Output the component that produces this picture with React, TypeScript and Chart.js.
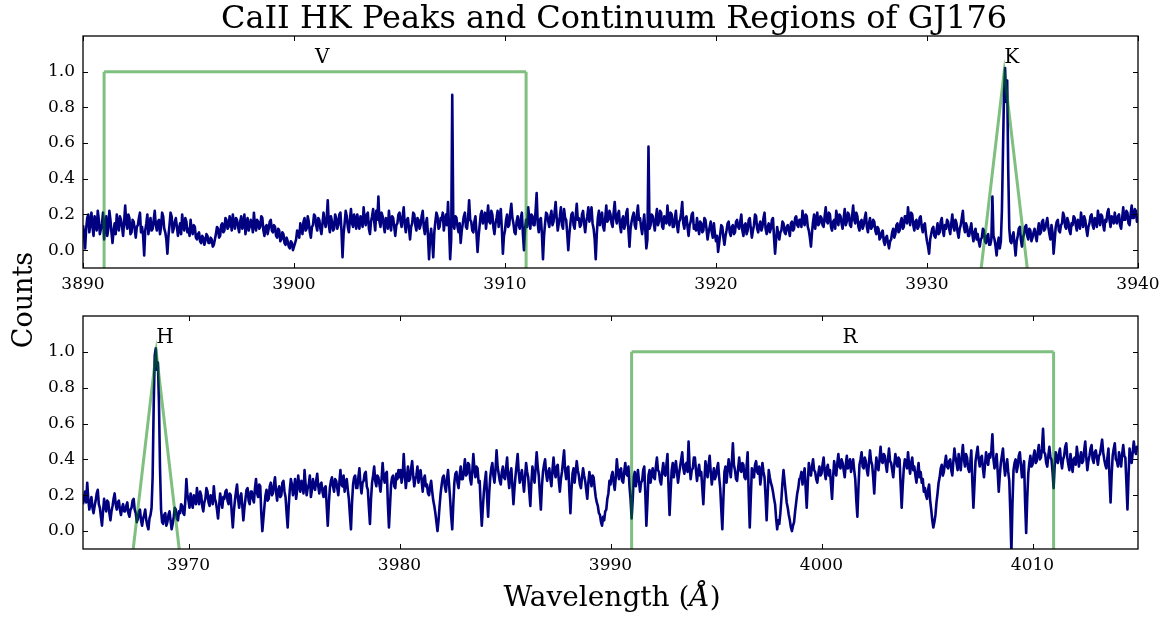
import React, { useEffect, useRef } from "react";
import { Chart, registerables } from "chart.js";

Chart.register(...registerables);

const FIG_W = 1169;
const FIG_H = 617;
const FONT = '"DejaVu Serif", serif';

// sampling grid (Å)
const STEP = 0.05;
const TOP_START = 3890;
const BOTTOM_START = 3965;

// axis ranges and ticks
const TOP_X_RANGE = [3890, 3940];
const BOTTOM_X_RANGE = [3965, 4015];
const Y_RANGE = [-0.1, 1.2];
const TOP_X_TICKS = [3890, 3900, 3910, 3920, 3930, 3940];
const BOTTOM_X_TICKS = [3970, 3980, 3990, 4000, 4010];
const Y_TICKS = [0.0, 0.2, 0.4, 0.6, 0.8, 1.0];

// regions
const V_REGION = [3891.0, 3911.0];
const R_REGION = [3991.0, 4011.0];
const K_CENTER = 3933.66;
const H_CENTER = 3968.47;
const TRI_HALF_BASE = 1.09;
const PEAK_LEVEL = 1.0;
const LABEL_LEVEL = 1.05;
const TOP_LABELS = ["V", "K"];
const TOP_LABEL_X = [3901.0, 3933.66];
const BOTTOM_LABELS = ["H", "R"];
const BOTTOM_LABEL_X = [3968.47, 4001.0];

// normalised counts, 3890.00 ... 3940.00 Å (one row per Å)
const TOP_FLUX = [
  0.14, 0.09, 0.01, 0.12, 0.18, 0.20, 0.10, 0.15, 0.21, 0.13, 0.08, 0.19, 0.16, 0.11, 0.22, 0.17, 0.09, 0.12, 0.15, 0.21,
  0.06, 0.14, 0.19, 0.08, 0.12, 0.22, 0.17, 0.10, 0.04, 0.11, 0.15, 0.09, 0.20, 0.14, 0.11, 0.19, 0.17, 0.13, 0.08, 0.16,
  0.25, 0.15, 0.12, 0.20, 0.18, 0.09, 0.10, 0.17, 0.16, 0.12, 0.07, 0.13, 0.14, 0.18, 0.21, 0.10, 0.13, 0.08, -0.03, 0.11,
  0.15, 0.20, 0.09, 0.14, 0.18, 0.11, 0.12, 0.17, 0.22, 0.14, 0.11, 0.16, 0.17, 0.09, 0.13, 0.21, 0.19, 0.12, 0.10, 0.06,
  -0.02, 0.08, 0.14, 0.21, 0.19, 0.10, 0.12, 0.16, 0.18, 0.13, 0.08, 0.12, 0.15, 0.09, 0.20, 0.14, 0.11, 0.18, 0.16, 0.10,
  0.12, 0.08, 0.17, 0.11, 0.09, 0.14, 0.13, 0.07, 0.06, 0.09, 0.10, 0.05, 0.04, 0.08, 0.07, 0.03, 0.05, 0.09, 0.08, 0.04,
  0.04, 0.07, 0.06, 0.02, 0.03, 0.06, 0.09, 0.13, 0.12, 0.07, 0.08, 0.14, 0.15, 0.10, 0.11, 0.18, 0.17, 0.12, 0.13, 0.19,
  0.16, 0.11, 0.20, 0.15, 0.12, 0.18, 0.17, 0.13, 0.10, 0.16, 0.19, 0.12, 0.14, 0.20, 0.09, 0.15, 0.18, 0.11, 0.13, 0.17,
  0.15, 0.10, 0.21, 0.14, 0.11, 0.17, 0.16, 0.12, 0.13, 0.19, 0.18, 0.11, 0.08, 0.13, 0.14, 0.09, 0.12, 0.16, 0.17, 0.11,
  0.10, 0.14, 0.13, 0.08, 0.07, 0.12, 0.11, 0.05, 0.06, 0.10, 0.09, 0.04, 0.03, 0.07, 0.05, 0.02, 0.01, 0.05, 0.04, 0.00,
  0.02, 0.04, 0.06, 0.11, 0.10, 0.07, 0.15, 0.12, 0.09, 0.16, 0.18, 0.11, 0.12, 0.19, 0.16, 0.10, 0.07, 0.13, 0.14, 0.20,
  0.19, 0.14, 0.11, 0.18, 0.17, 0.12, 0.09, 0.15, 0.21, 0.16, 0.13, 0.18, 0.28, 0.14, 0.10, 0.19, 0.16, 0.11, 0.12, 0.20,
  0.18, 0.12, 0.14, 0.20, 0.21, 0.11, -0.04, 0.09, 0.15, 0.22, 0.19, 0.13, 0.10, 0.17, 0.23, 0.15, 0.13, 0.20, 0.17, 0.12,
  0.20, 0.15, 0.12, 0.19, 0.18, 0.13, 0.24, 0.17, 0.14, 0.20, 0.21, 0.12, 0.09, 0.16, 0.19, 0.23, 0.16, 0.11, 0.22, 0.17,
  0.30, 0.16, 0.13, 0.21, 0.19, 0.14, 0.10, 0.18, 0.17, 0.12, 0.22, 0.15, 0.11, 0.19, 0.18, 0.13, 0.08, 0.14, 0.15, 0.20,
  0.21, 0.16, 0.13, 0.19, 0.24, 0.14, 0.10, 0.17, 0.18, 0.12, 0.06, 0.13, 0.15, 0.21, 0.20, 0.14, 0.11, 0.18, 0.17, 0.12,
  0.14, 0.19, 0.22, 0.13, 0.09, 0.15, 0.18, 0.08, -0.05, 0.07, 0.12, 0.05, -0.04, 0.10, 0.16, 0.21, 0.19, 0.12, 0.13, 0.18,
  0.17, 0.21, 0.11, 0.16, 0.20, 0.14, 0.27, 0.12, -0.05, 0.06, 0.87, 0.14, 0.12, 0.19, 0.18, 0.13, 0.10, 0.15, 0.04, 0.11,
  0.15, 0.19, 0.21, 0.13, 0.12, 0.18, 0.28, 0.17, 0.16, 0.11, 0.10, 0.16, 0.19, 0.09, -0.01, 0.08, 0.14, 0.20, 0.22, 0.15,
  0.17, 0.21, 0.12, 0.18, 0.25, 0.16, 0.15, 0.22, 0.20, 0.13, 0.09, 0.15, 0.18, 0.22, 0.13, 0.19, 0.23, 0.12, -0.02, 0.08,
  0.11, 0.17, 0.20, 0.13, 0.14, 0.21, 0.26, 0.18, 0.15, 0.10, 0.09, 0.16, 0.19, 0.14, 0.12, 0.18, 0.21, 0.09, 0.00, 0.12,
  0.17, 0.13, 0.24, 0.18, 0.12, 0.20, 0.19, 0.14, 0.14, 0.22, 0.32, 0.15, 0.10, 0.17, 0.18, 0.09, -0.05, 0.08, 0.15, 0.21,
  0.20, 0.16, 0.13, 0.19, 0.22, 0.14, 0.16, 0.21, 0.27, 0.18, 0.11, 0.15, 0.19, 0.24, 0.14, 0.12, 0.23, 0.18, 0.17, 0.09,
  0.00, 0.09, 0.15, 0.20, 0.21, 0.14, 0.12, 0.19, 0.26, 0.17, 0.18, 0.13, 0.14, 0.20, 0.22, 0.15, 0.10, 0.16, 0.19, 0.24,
  0.16, 0.20, 0.24, 0.15, 0.12, 0.06, -0.05, 0.09, 0.18, 0.22, 0.14, 0.19, 0.21, 0.13, 0.11, 0.18, 0.25, 0.16, 0.17, 0.22,
  0.20, 0.15, 0.13, 0.21, 0.27, 0.18, 0.15, 0.20, 0.22, 0.14, 0.10, 0.17, 0.19, 0.12, 0.14, 0.21, 0.23, 0.11, 0.02, 0.12,
  0.16, 0.19, 0.21, 0.14, 0.12, 0.20, 0.25, 0.17, 0.18, 0.13, 0.09, 0.15, 0.20, 0.11, 0.01, 0.06, 0.58, 0.12, 0.14, 0.20,
  0.19, 0.15, 0.11, 0.18, 0.23, 0.14, 0.16, 0.22, 0.21, 0.13, 0.12, 0.19, 0.18, 0.15, 0.25, 0.17, 0.14, 0.21, 0.20, 0.13,
  0.13, 0.18, 0.22, 0.14, 0.10, 0.16, 0.17, 0.21, 0.27, 0.15, 0.12, 0.18, 0.19, 0.13, 0.08, 0.14, 0.16, 0.20, 0.21, 0.12,
  0.14, 0.11, 0.18, 0.13, 0.09, 0.16, 0.15, 0.10, 0.11, 0.18, 0.17, 0.12, 0.06, 0.10, 0.13, 0.16, 0.10, 0.07, 0.15, 0.09,
  0.05, 0.08, -0.01, 0.04, 0.09, 0.14, 0.13, 0.07, 0.03, 0.08, 0.11, 0.15, 0.16, 0.10, 0.08, 0.13, 0.14, 0.09, 0.10, 0.16,
  0.17, 0.13, 0.12, 0.16, 0.20, 0.11, 0.08, 0.14, 0.15, 0.09, 0.11, 0.17, 0.18, 0.12, 0.07, 0.11, 0.14, 0.20, 0.19, 0.12,
  0.10, 0.14, 0.16, 0.11, 0.13, 0.18, 0.21, 0.12, 0.09, 0.13, 0.15, 0.10, 0.12, 0.17, 0.18, 0.07, -0.02, 0.06, 0.13, 0.09,
  0.06, 0.10, 0.11, 0.16, 0.15, 0.10, 0.09, 0.13, 0.14, 0.11, 0.08, 0.15, 0.16, 0.11, 0.12, 0.18, 0.19, 0.14, 0.13, 0.17,
  0.17, 0.13, 0.22, 0.16, 0.14, 0.20, 0.19, 0.13, 0.11, 0.07, 0.02, 0.10, 0.16, 0.20, 0.12, 0.17, 0.21, 0.14, 0.15, 0.19,
  0.18, 0.14, 0.13, 0.19, 0.24, 0.16, 0.15, 0.21, 0.20, 0.13, 0.11, 0.16, 0.17, 0.12, 0.22, 0.18, 0.14, 0.20, 0.19, 0.15,
  0.12, 0.18, 0.23, 0.14, 0.16, 0.21, 0.20, 0.14, 0.13, 0.19, 0.25, 0.17, 0.15, 0.21, 0.19, 0.13, 0.11, 0.16, 0.17, 0.12,
  0.14, 0.18, 0.21, 0.13, 0.10, 0.15, 0.18, 0.12, 0.13, 0.17, 0.16, 0.11, 0.09, 0.13, 0.12, 0.06, 0.07, 0.10, 0.11, 0.05,
  0.03, 0.07, 0.08, 0.04, 0.01, 0.05, 0.06, 0.10, 0.12, 0.07, 0.09, 0.14, 0.15, 0.10, 0.11, 0.16, 0.18, 0.12, 0.13, 0.19,
  0.19, 0.15, 0.24, 0.18, 0.14, 0.21, 0.20, 0.14, 0.11, 0.16, 0.17, 0.12, 0.13, 0.18, 0.19, 0.13, 0.10, 0.14, 0.15, 0.09,
  0.05, 0.02, -0.02, 0.06, 0.09, 0.12, 0.13, 0.08, 0.07, 0.11, 0.15, 0.09, 0.10, 0.16, 0.18, 0.11, 0.08, 0.14, 0.12, 0.17,
  0.16, 0.12, 0.09, 0.15, 0.20, 0.13, 0.11, 0.17, 0.15, 0.10, 0.07, 0.12, 0.14, 0.18, 0.22, 0.13, 0.10, 0.15, 0.13, 0.08,
  0.08, 0.12, 0.15, 0.09, 0.05, 0.10, 0.12, 0.06, 0.09, 0.05, 0.02, 0.06, 0.07, 0.12, 0.11, 0.05, 0.04, 0.08, 0.09, 0.03,
  0.03, 0.06, 0.30, 0.08, 0.06, 0.02, -0.03, 0.04, 0.07, 0.01, 0.05, 0.22, 0.55, 0.88, 1.02, 0.83, 0.95, 0.45, 0.12, 0.05,
  0.04, 0.08, 0.10, 0.03, -0.03, 0.05, 0.08, 0.12, 0.13, 0.06, 0.02, 0.07, 0.09, 0.13, 0.14, 0.08, 0.06, 0.12, 0.11, 0.05,
  0.07, 0.10, 0.12, 0.08, 0.05, 0.11, 0.15, 0.09, 0.10, 0.16, 0.17, 0.11, 0.12, 0.15, 0.18, 0.13, 0.09, 0.06, 0.14, 0.10,
  -0.02, 0.05, 0.13, 0.16, 0.17, 0.11, 0.10, 0.14, 0.15, 0.21, 0.19, 0.13, 0.12, 0.18, 0.16, 0.11, 0.09, 0.15, 0.14, 0.19,
  0.18, 0.14, 0.11, 0.17, 0.16, 0.12, 0.21, 0.16, 0.13, 0.19, 0.17, 0.12, 0.08, 0.13, 0.15, 0.19, 0.20, 0.14, 0.12, 0.18,
  0.17, 0.13, 0.22, 0.18, 0.14, 0.20, 0.19, 0.14, 0.11, 0.17, 0.16, 0.21, 0.23, 0.17, 0.13, 0.19, 0.18, 0.15, 0.21, 0.16,
  0.15, 0.19, 0.20, 0.14, 0.12, 0.18, 0.24, 0.17, 0.17, 0.22, 0.21, 0.15, 0.14, 0.20, 0.25, 0.18, 0.18, 0.23, 0.22, 0.16,
  0.19,
];

// normalised counts, 3965.00 ... 4015.00 Å (one row per Å)
const BOTTOM_FLUX = [
  0.15, 0.19, 0.22, 0.16, 0.27, 0.18, 0.12, 0.16, 0.19, 0.13, 0.10, 0.14, 0.17, 0.21, 0.23, 0.15, 0.13, 0.08, 0.03, 0.11,
  0.18, 0.14, 0.11, 0.17, 0.16, 0.10, 0.06, 0.11, 0.14, 0.18, 0.21, 0.15, 0.12, 0.16, 0.17, 0.12, 0.09, 0.13, 0.15, 0.11,
  0.11, 0.14, 0.16, 0.10, 0.08, 0.12, 0.13, 0.17, 0.18, 0.12, 0.10, 0.05, 0.07, 0.11, 0.12, 0.06, 0.03, 0.07, 0.09, 0.12,
  0.06, 0.03, 0.01, 0.07, 0.09, 0.13, 0.30, 0.70, 0.98, 1.02, 0.90, 0.94, 0.72, 0.35, 0.12, 0.05, 0.04, 0.09, 0.10, 0.03,
  0.05, 0.09, 0.11, 0.06, 0.01, 0.04, 0.08, 0.13, 0.12, 0.07, 0.06, 0.11, 0.10, 0.15, 0.14, 0.10, 0.09, 0.17, 0.29, 0.20,
  0.17, 0.13, 0.21, 0.16, 0.13, 0.20, 0.19, 0.15, 0.24, 0.18, 0.15, 0.22, 0.20, 0.14, 0.11, 0.16, 0.18, 0.24, 0.22, 0.16,
  0.14, 0.20, 0.19, 0.15, 0.25, 0.18, 0.16, 0.12, 0.07, 0.14, 0.21, 0.17, 0.13, 0.19, 0.18, 0.22, 0.23, 0.17, 0.15, 0.21,
  0.20, 0.10, 0.02, 0.11, 0.17, 0.22, 0.26, 0.18, 0.13, 0.19, 0.21, 0.14, 0.06, 0.13, 0.18, 0.23, 0.24, 0.17, 0.15, 0.22,
  0.22, 0.18, 0.16, 0.24, 0.29, 0.21, 0.19, 0.26, 0.25, 0.10, 0.00, 0.07, 0.14, 0.20, 0.23, 0.17, 0.18, 0.25, 0.27, 0.20,
  0.21, 0.26, 0.30, 0.22, 0.17, 0.23, 0.25, 0.19, 0.20, 0.27, 0.28, 0.22, 0.19, 0.10, 0.02, 0.14, 0.23, 0.29, 0.26, 0.20,
  0.24, 0.29, 0.18, 0.23, 0.31, 0.25, 0.22, 0.28, 0.27, 0.21, 0.34, 0.26, 0.20, 0.24, 0.26, 0.31, 0.19, 0.23, 0.29, 0.25,
  0.23, 0.28, 0.32, 0.25, 0.21, 0.26, 0.27, 0.22, 0.19, 0.24, 0.25, 0.14, 0.03, 0.15, 0.24, 0.28, 0.30, 0.25, 0.22, 0.29,
  0.28, 0.24, 0.20, 0.27, 0.34, 0.26, 0.25, 0.31, 0.22, 0.27, 0.29, 0.23, 0.18, 0.09, 0.01, 0.16, 0.26, 0.30, 0.31, 0.24,
  0.24, 0.30, 0.35, 0.26, 0.21, 0.27, 0.28, 0.32, 0.33, 0.25, 0.23, 0.13, 0.04, 0.18, 0.27, 0.31, 0.36, 0.28, 0.25, 0.31,
  0.30, 0.26, 0.22, 0.29, 0.38, 0.30, 0.27, 0.32, 0.33, 0.15, 0.02, 0.14, 0.26, 0.30, 0.31, 0.25, 0.24, 0.32, 0.29, 0.34,
  0.30, 0.34, 0.27, 0.31, 0.43, 0.32, 0.24, 0.30, 0.36, 0.28, 0.29, 0.35, 0.39, 0.31, 0.25, 0.29, 0.31, 0.36, 0.27, 0.32,
  0.34, 0.28, 0.22, 0.29, 0.31, 0.25, 0.26, 0.21, 0.20, 0.25, 0.28, 0.22, 0.17, 0.14, 0.10, 0.05, 0.00, 0.06, 0.14, 0.21,
  0.26, 0.30, 0.31, 0.25, 0.22, 0.29, 0.34, 0.26, 0.18, 0.08, 0.01, 0.15, 0.27, 0.32, 0.33, 0.27, 0.24, 0.31, 0.36, 0.29,
  0.29, 0.34, 0.40, 0.31, 0.32, 0.38, 0.37, 0.29, 0.26, 0.33, 0.43, 0.35, 0.30, 0.36, 0.35, 0.27, 0.28, 0.14, 0.03, 0.13,
  0.22, 0.28, 0.33, 0.19, 0.08, 0.21, 0.30, 0.35, 0.38, 0.31, 0.27, 0.34, 0.45, 0.36, 0.32, 0.28, 0.26, 0.33, 0.36, 0.30,
  0.29, 0.35, 0.41, 0.30, 0.24, 0.32, 0.35, 0.25, 0.15, 0.24, 0.31, 0.37, 0.43, 0.33, 0.27, 0.31, 0.34, 0.28, 0.22, 0.30,
  0.38, 0.33, 0.30, 0.22, 0.14, 0.27, 0.36, 0.31, 0.27, 0.35, 0.44, 0.36, 0.31, 0.21, 0.12, 0.25, 0.33, 0.37, 0.40, 0.32,
  0.28, 0.33, 0.35, 0.29, 0.25, 0.34, 0.41, 0.33, 0.30, 0.36, 0.37, 0.28, 0.22, 0.29, 0.33, 0.39, 0.45, 0.34, 0.29, 0.35,
  0.36, 0.22, 0.10, 0.23, 0.32, 0.35, 0.27, 0.33, 0.39, 0.34, 0.31, 0.26, 0.24, 0.30, 0.35, 0.31, 0.28, 0.23, 0.18, 0.27,
  0.33, 0.29, 0.25, 0.31, 0.30, 0.24, 0.19, 0.16, 0.14, 0.10, 0.09, 0.05, 0.03, 0.08, 0.06, 0.11, 0.12, 0.18, 0.21, 0.28,
  0.26, 0.31, 0.33, 0.27, 0.23, 0.30, 0.40, 0.33, 0.29, 0.34, 0.35, 0.28, 0.27, 0.33, 0.38, 0.32, 0.31, 0.36, 0.25, 0.18,
  0.07, 0.17, 0.30, 0.33, 0.25, 0.29, 0.34, 0.28, 0.22, 0.27, 0.28, 0.34, 0.36, 0.21, 0.03, 0.16, 0.31, 0.34, 0.27, 0.32,
  0.35, 0.30, 0.29, 0.36, 0.41, 0.34, 0.33, 0.28, 0.26, 0.33, 0.38, 0.32, 0.31, 0.37, 0.43, 0.25, 0.09, 0.22, 0.34, 0.38,
  0.30, 0.35, 0.39, 0.33, 0.27, 0.32, 0.36, 0.40, 0.44, 0.35, 0.32, 0.37, 0.38, 0.33, 0.50, 0.36, 0.29, 0.34, 0.35, 0.41,
  0.41, 0.34, 0.28, 0.33, 0.37, 0.31, 0.33, 0.24, 0.15, 0.28, 0.39, 0.34, 0.30, 0.37, 0.42, 0.33, 0.26, 0.31, 0.35, 0.29,
  0.31, 0.35, 0.38, 0.30, 0.24, 0.12, 0.01, 0.18, 0.33, 0.36, 0.27, 0.34, 0.40, 0.35, 0.30, 0.38, 0.49, 0.37, 0.34, 0.29,
  0.28, 0.35, 0.41, 0.34, 0.33, 0.38, 0.37, 0.30, 0.29, 0.36, 0.44, 0.21, 0.02, 0.19, 0.35, 0.32, 0.30, 0.37, 0.39, 0.33,
  0.32, 0.36, 0.26, 0.31, 0.38, 0.33, 0.30, 0.19, 0.06, 0.21, 0.34, 0.30, 0.27, 0.25, 0.22, 0.18, 0.15, 0.07, 0.01, 0.06,
  0.04, 0.10, 0.18, 0.27, 0.34, 0.28, 0.22, 0.16, 0.13, 0.09, 0.06, 0.02, 0.00, 0.03, 0.05, 0.11, 0.16, 0.21, 0.24, 0.29,
  0.30, 0.33, 0.26, 0.31, 0.35, 0.24, 0.13, 0.27, 0.38, 0.33, 0.31, 0.36, 0.40, 0.34, 0.33, 0.29, 0.27, 0.32, 0.36, 0.31,
  0.32, 0.37, 0.41, 0.33, 0.29, 0.35, 0.37, 0.31, 0.34, 0.26, 0.18, 0.30, 0.39, 0.34, 0.31, 0.38, 0.43, 0.36, 0.35, 0.40,
  0.38, 0.34, 0.30, 0.37, 0.42, 0.35, 0.36, 0.40, 0.33, 0.37, 0.40, 0.34, 0.29, 0.17, 0.08, 0.24, 0.37, 0.40, 0.44, 0.36,
  0.35, 0.41, 0.39, 0.34, 0.31, 0.38, 0.45, 0.39, 0.37, 0.30, 0.21, 0.33, 0.41, 0.36, 0.34, 0.40, 0.47, 0.39, 0.38, 0.43,
  0.42, 0.37, 0.33, 0.40, 0.46, 0.39, 0.38, 0.34, 0.30, 0.37, 0.43, 0.39, 0.36, 0.41, 0.40, 0.26, 0.13, 0.25, 0.35, 0.40,
  0.39, 0.35, 0.44, 0.37, 0.32, 0.38, 0.41, 0.34, 0.36, 0.31, 0.27, 0.33, 0.38, 0.30, 0.33, 0.27, 0.29, 0.22, 0.24, 0.20,
  0.18, 0.23, 0.26, 0.17, 0.12, 0.06, 0.02, 0.05, 0.09, 0.16, 0.21, 0.27, 0.30, 0.35, 0.37, 0.31, 0.33, 0.38, 0.42, 0.36,
  0.35, 0.39, 0.40, 0.34, 0.31, 0.39, 0.46, 0.41, 0.38, 0.34, 0.43, 0.37, 0.34, 0.42, 0.48, 0.40, 0.36, 0.43, 0.41, 0.35,
  0.33, 0.38, 0.45, 0.27, 0.13, 0.26, 0.39, 0.43, 0.47, 0.40, 0.36, 0.41, 0.42, 0.35, 0.30, 0.37, 0.44, 0.39, 0.37, 0.43,
  0.41, 0.45, 0.54, 0.40, 0.35, 0.39, 0.43, 0.33, 0.22, 0.31, 0.38, 0.42, 0.46, 0.37, 0.31, 0.36, 0.40, 0.33, 0.28, 0.10,
  -0.12, 0.15, 0.34, 0.38, 0.40, 0.33, 0.36, 0.42, 0.44, 0.37, 0.30, 0.35, 0.39, 0.16, -0.01, 0.18, 0.32, 0.38, 0.42, 0.36,
  0.37, 0.42, 0.45, 0.38, 0.39, 0.44, 0.48, 0.40, 0.41, 0.46, 0.57, 0.44, 0.43, 0.38, 0.36, 0.42, 0.47, 0.41, 0.40, 0.33,
  0.24, 0.36, 0.44, 0.40, 0.38, 0.43, 0.46, 0.39, 0.35, 0.40, 0.42, 0.47, 0.49, 0.41, 0.37, 0.34, 0.43, 0.38, 0.33, 0.40,
  0.41, 0.37, 0.47, 0.42, 0.36, 0.40, 0.44, 0.38, 0.39, 0.45, 0.50, 0.41, 0.34, 0.39, 0.42, 0.46, 0.48, 0.40, 0.38, 0.44,
  0.45, 0.41, 0.37, 0.42, 0.43, 0.47, 0.51, 0.44, 0.40, 0.37, 0.35, 0.41, 0.46, 0.30, 0.16, 0.31, 0.42, 0.46, 0.49, 0.40,
  0.39, 0.36, 0.44, 0.40, 0.36, 0.43, 0.48, 0.42, 0.41, 0.27, 0.12, 0.30, 0.46, 0.41, 0.38, 0.44, 0.50, 0.45, 0.43, 0.47,
  0.47,
];

const TITLE = "CaII HK Peaks and Continuum Regions of GJ176";
const Y_TITLE = "Counts";
const X_TITLE_PARTS = ["Wavelength (", "Å", ")"];

const NAVY = "#000080";
const GREEN = "rgba(0,128,0,0.5)";

function spectrum(start: number, flux: number[]) {
  return flux.map((y, i) => ({ x: Math.round((start + i * STEP) * 1000) / 1000, y }));
}

function bracket(range: number[]) {
  const [a, b] = range;
  const lo = Y_RANGE[0];
  return [
    { x: a, y: lo }, { x: a, y: PEAK_LEVEL }, { x: a, y: null },
    { x: a, y: PEAK_LEVEL }, { x: b, y: PEAK_LEVEL }, { x: b, y: null },
    { x: b, y: PEAK_LEVEL }, { x: b, y: lo },
  ];
}

function triangle(center: number) {
  const lo = Y_RANGE[0];
  return [
    { x: center - TRI_HALF_BASE, y: lo },
    { x: center, y: PEAK_LEVEL },
    { x: center + TRI_HALF_BASE, y: lo },
  ];
}

type PanelSpec = {
  flux: number[];
  start: number;
  xRange: number[];
  xTicks: number[];
  labels: string[];
  labelX: number[];
  region: number[];
  center: number;
  padTop: number;
  padBottom: number;
  xAxisHeight: number;
  figureText: (ctx: CanvasRenderingContext2D) => void;
};

function drawTopFigureText(ctx: CanvasRenderingContext2D) {
  ctx.fillStyle = "#000";
  ctx.font = `32px ${FONT}`;
  ctx.textAlign = "center";
  ctx.textBaseline = "alphabetic";
  ctx.fillText(TITLE, 614, 28);
  ctx.save();
  ctx.translate(32, 300);
  ctx.rotate(-Math.PI / 2);
  ctx.font = `27px ${FONT}`;
  ctx.textAlign = "center";
  ctx.fillText(Y_TITLE, 0, 0);
  ctx.restore();
}

function drawBottomFigureText(ctx: CanvasRenderingContext2D) {
  ctx.fillStyle = "#000";
  ctx.textBaseline = "alphabetic";
  ctx.textAlign = "left";
  const normal = `28px ${FONT}`;
  const italic = `italic 28px ${FONT}`;
  const fonts = [normal, italic, normal];
  let total = 0;
  const widths = X_TITLE_PARTS.map((p, i) => {
    ctx.font = fonts[i];
    const w = ctx.measureText(p).width;
    total += w;
    return w;
  });
  let x = 612 - total / 2;
  X_TITLE_PARTS.forEach((p, i) => {
    ctx.font = fonts[i];
    ctx.fillText(p, x, 606);
    x += widths[i];
  });
}

function decorPlugin(spec: PanelSpec) {
  return {
    id: "panelDecor",
    afterDraw(chart: any) {
      const { ctx, chartArea: a, scales } = chart;
      const xs = scales.x;
      const ys = scales.y;
      ctx.save();
      ctx.strokeStyle = "#000";
      ctx.lineWidth = 1.3;
      ctx.strokeRect(a.left, a.top, a.right - a.left, a.bottom - a.top);
      ctx.lineWidth = 1;
      ctx.beginPath();
      const tl = 5;
      spec.xTicks.forEach((v) => {
        const px = Math.round(xs.getPixelForValue(v)) + 0.5;
        ctx.moveTo(px, a.bottom);
        ctx.lineTo(px, a.bottom - tl);
        ctx.moveTo(px, a.top);
        ctx.lineTo(px, a.top + tl);
      });
      Y_TICKS.forEach((v) => {
        const py = Math.round(ys.getPixelForValue(v)) + 0.5;
        ctx.moveTo(a.left, py);
        ctx.lineTo(a.left + tl, py);
        ctx.moveTo(a.right, py);
        ctx.lineTo(a.right - tl, py);
      });
      ctx.stroke();
      ctx.fillStyle = "#000";
      ctx.font = `20px ${FONT}`;
      ctx.textAlign = "left";
      ctx.textBaseline = "alphabetic";
      spec.labels.forEach((t, i) => {
        ctx.fillText(t, xs.getPixelForValue(spec.labelX[i]), ys.getPixelForValue(LABEL_LEVEL));
      });
      spec.figureText(ctx);
      ctx.restore();
    },
  };
}

function makeChart(canvas: HTMLCanvasElement, spec: PanelSpec) {
  const tickFont = { family: FONT, size: 17 };
  return new Chart(canvas, {
    type: "line",
    data: {
      datasets: [
        {
          data: spectrum(spec.start, spec.flux),
          borderColor: NAVY,
          borderWidth: 2.6,
          pointRadius: 0,
          borderJoinStyle: "round",
          tension: 0,
          order: 3,
          clip: 0,
        } as any,
        {
          data: bracket(spec.region),
          borderColor: GREEN,
          borderWidth: 3,
          pointRadius: 0,
          spanGaps: false,
          tension: 0,
          order: 1,
          clip: 0,
        } as any,
        {
          data: triangle(spec.center),
          borderColor: GREEN,
          borderWidth: 3,
          pointRadius: 0,
          tension: 0,
          order: 1,
          clip: 0,
        } as any,
      ],
    },
    options: {
      responsive: false,
      animation: false,
      devicePixelRatio: 1,
      events: [],
      layout: { padding: { top: spec.padTop, right: 31, bottom: spec.padBottom, left: 0 } },
      plugins: { legend: { display: false }, tooltip: { enabled: false }, title: { display: false } },
      scales: {
        x: {
          type: "linear",
          min: spec.xRange[0],
          max: spec.xRange[1],
          grid: { display: false, drawTicks: false },
          border: { display: false },
          ticks: {
            color: "#000",
            font: tickFont,
            padding: 6,
            maxRotation: 0,
            autoSkip: false,
            callback: (v: any) => String(Math.round(Number(v))),
          },
          afterBuildTicks: (s: any) => {
            s.ticks = spec.xTicks.map((v) => ({ value: v }));
          },
          afterFit: (s: any) => {
            s.height = spec.xAxisHeight;
          },
        },
        y: {
          type: "linear",
          min: Y_RANGE[0],
          max: Y_RANGE[1],
          grid: { display: false, drawTicks: false },
          border: { display: false },
          ticks: {
            color: "#000",
            font: tickFont,
            padding: 8,
            autoSkip: false,
            callback: (v: any) => Number(v).toFixed(1),
          },
          afterBuildTicks: (s: any) => {
            s.ticks = Y_TICKS.map((v) => ({ value: v }));
          },
          afterFit: (s: any) => {
            s.width = 83;
          },
        },
      },
    } as any,
    plugins: [decorPlugin(spec)],
  });
}

export default function App() {
  const topRef = useRef<HTMLCanvasElement>(null);
  const bottomRef = useRef<HTMLCanvasElement>(null);

  useEffect(() => {
    if (!topRef.current || !bottomRef.current) return;
    const top = makeChart(topRef.current, {
      flux: TOP_FLUX,
      start: TOP_START,
      xRange: TOP_X_RANGE,
      xTicks: TOP_X_TICKS,
      labels: TOP_LABELS,
      labelX: TOP_LABEL_X,
      region: V_REGION,
      center: K_CENTER,
      padTop: 36,
      padBottom: 317,
      xAxisHeight: 32,
      figureText: drawTopFigureText,
    });
    const bottom = makeChart(bottomRef.current, {
      flux: BOTTOM_FLUX,
      start: BOTTOM_START,
      xRange: BOTTOM_X_RANGE,
      xTicks: BOTTOM_X_TICKS,
      labels: BOTTOM_LABELS,
      labelX: BOTTOM_LABEL_X,
      region: R_REGION,
      center: H_CENTER,
      padTop: 316,
      padBottom: 0,
      xAxisHeight: 68,
      figureText: drawBottomFigureText,
    });
    return () => {
      top.destroy();
      bottom.destroy();
    };
  }, []);

  const canvasStyle: React.CSSProperties = { position: "absolute", left: 0, top: 0 };
  return (
    <div style={{ position: "fixed", left: 0, top: 0, width: FIG_W, height: FIG_H, background: "#fff" }}>
      <canvas ref={topRef} width={FIG_W} height={FIG_H} style={canvasStyle} />
      <canvas ref={bottomRef} width={FIG_W} height={FIG_H} style={canvasStyle} />
    </div>
  );
}
